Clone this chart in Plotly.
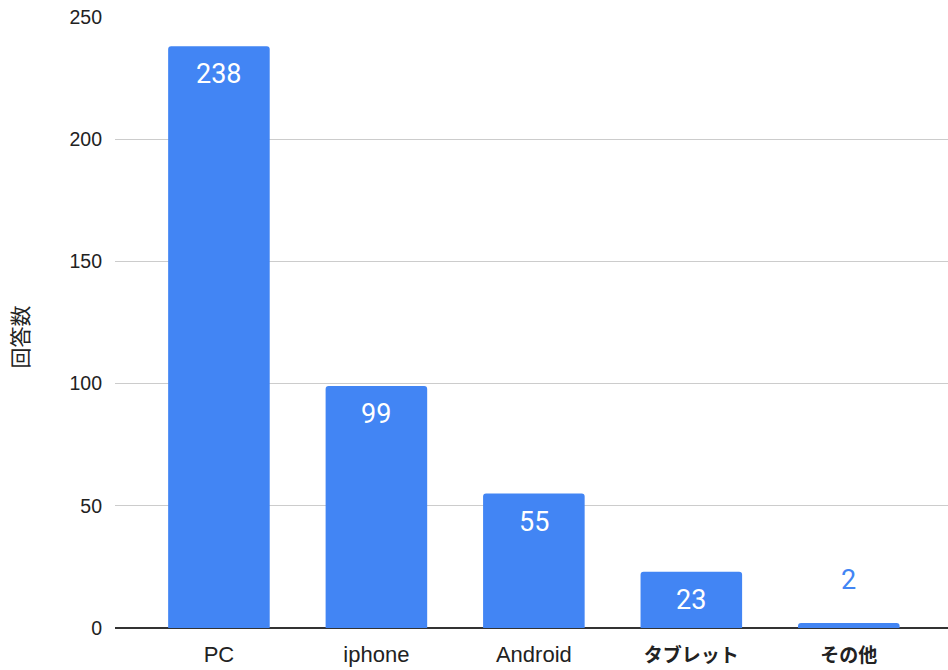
import plotly.graph_objects as go

categories = ["PC", "iphone", "Android", "タブレット", "その他"]
values = [238, 99, 55, 23, 2]
y_ticks = [0, 50, 100, 150, 200, 250]
y_title = "回答数"

BLUE = "#4285F4"
TEXT = "#222222"
LATIN_FONT = "Arial, 'Liberation Sans', 'Noto Sans CJK JP', sans-serif"
LABEL_FONT = "Roboto, 'Noto Sans CJK JP', sans-serif"
CJK_FONT = "'Noto Sans CJK JP', sans-serif"


def tick_label(name):
    if all(ord(ch) < 128 for ch in name):
        return name
    return ('<span style="font-size:19px;font-weight:bold;'
            "font-family:'Noto Sans CJK JP'\">" + name + "</span>")


fig = go.Figure()
fig.add_trace(go.Bar(
    x=categories,
    y=values,
    marker=dict(color=BLUE, line=dict(width=0)),
    hoverinfo="skip",
))

annotations = []
for c, v in zip(categories, values):
    inside = v > 10
    annotations.append(dict(
        x=c, y=v, xref="x", yref="y",
        text=str(v), showarrow=False,
        yanchor="middle",
        yshift=-28 if inside else 43,
        font=dict(family=LABEL_FONT, size=27, color="white" if inside else BLUE),
    ))

# y-axis title (centred on the whole chart height, like the reference)
annotations.append(dict(
    x=0, y=0.5, xref="paper", yref="paper",
    text=y_title, showarrow=False, textangle=-90,
    xanchor="center", yanchor="middle",
    xshift=-97, yshift=-15,
    font=dict(family=CJK_FONT, size=21, color=TEXT),
))

fig.update_layout(
    width=948, height=670,
    margin=dict(l=115, r=0, t=17, b=42, autoexpand=False),
    paper_bgcolor="white", plot_bgcolor="white",
    bargap=0.355,
    barcornerradius=3,
    showlegend=False,
    hovermode=False,
    annotations=annotations,
    font=dict(family=LATIN_FONT, size=18, color=TEXT),
    xaxis=dict(
        type="category",
        range=[-0.66, 4.63],
        tickvals=categories,
        ticktext=[tick_label(c) for c in categories],
        showgrid=False,
        showline=False,
        zeroline=False,
        ticks="",
        ticklabelstandoff=11,
        ticklabeloverflow="allow",
        tickfont=dict(family=LATIN_FONT, size=22, color=TEXT),
    ),
    yaxis=dict(
        range=[0, 250],
        tickvals=y_ticks,
        showgrid=True, gridcolor="#CCCCCC", gridwidth=1,
        zeroline=True, zerolinecolor="#333333", zerolinewidth=1.5,
        showline=False,
        ticks="",
        ticklabelstandoff=12,
        ticklabeloverflow="allow",
        tickfont=dict(family=LATIN_FONT, size=19.5, color=TEXT),
        automargin=False,
    ),
)

fig.write_html(
    "out.html",
    config={"displayModeBar": False, "staticPlot": True},
    post_script=(
        "document.documentElement.style.margin='0';"
        "document.body.style.margin='0';"
        "document.body.style.overflow='hidden';"
    ),
)
